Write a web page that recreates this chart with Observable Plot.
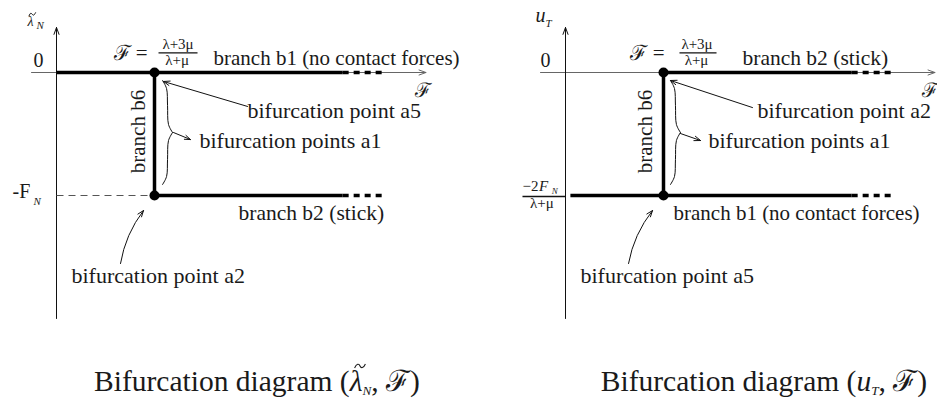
<!DOCTYPE html>
<html>
<head>
<meta charset="utf-8">
<script src="https://cdn.jsdelivr.net/npm/d3@7"></script>
<script src="https://cdn.jsdelivr.net/npm/@observablehq/plot@0.6"></script>
<style>
  body { margin: 0; background: #fff; }
  #wrap { position: relative; width: 937px; height: 403px; font-family: "Liberation Serif", serif; color: #1a1a1a; overflow: hidden; }
  #left { position: absolute; left: 0; top: 0; }
  #right { position: absolute; left: 509px; top: 0; }
  .cap { position: absolute; top: 365px; font-size: 29.5px; line-height: 32px; white-space: nowrap; transform: translateX(-50%); }
  .cap sub { font-size: 0.45em; font-style: italic; vertical-align: -0.3em; line-height: 0; }
  .cap .acc { position: relative; font-style: italic; }
  .cap .acc svg { position: absolute; left: 0.16em; top: -0.08em; width: 0.4em; height: 0.2em; overflow: visible; }
  svg text { font-family: "Liberation Serif", serif; }
</style>
</head>
<body>
<div id="wrap">
  <div id="left"></div>
  <div id="right"></div>
  <div class="cap" style="left:257px">Bifurcation diagram (<span class="acc">λ<svg viewBox="0 0 12 6"><path d="M0.5,5 C2.5,0.5 5,0.5 6,3 S9.5,5.5 11.5,1" fill="none" stroke="#1a1a1a" stroke-width="1.1"/></svg></span><sub>N</sub>, ℱ)</div>
  <div class="cap" style="left:764px">Bifurcation diagram (<i>u</i><sub>T</sub>, ℱ)</div>
</div>
<script>
// ================= Left diagram: (λ̃_N , ℱ) =================
const leftSolid = [
  {branch: "b1", F1: 0, F2: 2.92, v1: 0, v2: 0},
  {branch: "b2", F1: 1, F2: 2.92, v1: -1, v2: -1},
  {branch: "b6", F1: 1, F2: 1, v1: 0, v2: -1}
];
const leftDotted = [
  {branch: "b1", F1: 2.92, F2: 3.35, v1: 0, v2: 0},
  {branch: "b2", F1: 2.92, F2: 3.35, v1: -1, v2: -1}
];
const leftGuide = [{F1: 0, F2: 1, v1: -1, v2: -1}];
const leftPoints = [{name: "a5", F: 1, v: 0}, {name: "a2", F: 1, v: -1}];
const leftLabels = [
  {text: "branch b1 (no contact forces)", F: 1.602, v: 0.065, size: 21},
  {text: "bifurcation point a5", F: 1.949, v: -0.366, size: 22},
  {text: "bifurcation points a1", F: 1.459, v: -0.610, size: 22},
  {text: "branch b2 (stick)", F: 1.857, v: -1.203, size: 21.5},
  {text: "bifurcation point a2", F: 0.153, v: -1.715, size: 22}
];
const leftArrows = [
  {F1: 1.949, v1: -0.276, F2: 1.092, v2: -0.073},
  {F1: 1.194, v1: -0.488, F2: 1.367, v2: -0.545}
];
const leftCurvedArrows = [{F1: 0.653, v1: -1.553, F2: 0.888, v2: -1.122}];
const leftSymbols = [
  {text: "0", F: -0.235, v: 0.041, size: 20, italic: false, anchor: "start"},
  {text: "-F", F: -0.449, v: -1.024, size: 20, italic: false, anchor: "start"},
  {text: "N", F: -0.235, v: -1.081, size: 11, italic: true, anchor: "start"},
  {text: "λ", F: -0.296, v: 0.374, size: 14, italic: true, anchor: "start"},
  {text: "N", F: -0.204, v: 0.350, size: 11, italic: true, anchor: "start"},
  {text: "ℱ", F: 3.663, v: -0.203, size: 20, italic: false, anchor: "start"},
  {text: "ℱ =", F: 0.582, v: 0.098, size: 21, italic: false, anchor: "start"},
  {text: "λ+3μ", F: 1.240, v: 0.187, size: 15, italic: false, anchor: "middle"},
  {text: "λ+μ", F: 1.230, v: 0.065, size: 15, italic: false, anchor: "middle"}
];
// tilde accent over the λ of the axis label
const leftTilde = [
  {F: -0.280, v: 0.461}, {F: -0.260, v: 0.482}, {F: -0.237, v: 0.466}, {F: -0.214, v: 0.486}
];
const leftFractionBars = [{F1: 1.041, F2: 1.439, v: 0.159}];
const leftBrace = {F: 1.082, v: -0.065};
const leftB6 = {text: "branch b6", F: 0.837, v: -0.480};

// ================= Right diagram: (u_T , ℱ) =================
const rightSolid = [
  {branch: "b2", F1: 1, F2: 2.92, v1: 0, v2: 0},
  {branch: "b1", F1: 0.05, F2: 2.92, v1: -1, v2: -1},
  {branch: "b6", F1: 1, F2: 1, v1: 0, v2: -1}
];
const rightDotted = [
  {branch: "b2", F1: 2.92, F2: 3.35, v1: 0, v2: 0},
  {branch: "b1", F1: 2.92, F2: 3.35, v1: -1, v2: -1}
];
const rightGuide = [];
const rightPoints = [{name: "a2", F: 1, v: 0}, {name: "a5", F: 1, v: -1}];
const rightLabels = [
  {text: "branch b2 (stick)", F: 1.806, v: 0.065, size: 21.5},
  {text: "bifurcation point a2", F: 1.959, v: -0.366, size: 22},
  {text: "bifurcation points a1", F: 1.459, v: -0.610, size: 22},
  {text: "branch b1 (no contact forces)", F: 1.102, v: -1.203, size: 21},
  {text: "bifurcation point a5", F: 0.153, v: -1.715, size: 22}
];
const rightArrows = [
  {F1: 1.908, v1: -0.285, F2: 1.071, v2: -0.065},
  {F1: 1.173, v1: -0.496, F2: 1.378, v2: -0.553}
];
const rightCurvedArrows = [{F1: 0.643, v1: -1.553, F2: 0.888, v2: -1.122}];
const rightSymbols = [
  {text: "0", F: -0.255, v: 0.041, size: 20, italic: false, anchor: "start"},
  {text: "u", F: -0.306, v: 0.407, size: 20, italic: true, anchor: "start"},
  {text: "T", F: -0.204, v: 0.366, size: 11, italic: true, anchor: "start"},
  {text: "ℱ", F: 3.640, v: -0.203, size: 20, italic: false, anchor: "start"},
  {text: "ℱ =", F: 0.663, v: 0.098, size: 21, italic: false, anchor: "start"},
  {text: "λ+3μ", F: 1.342, v: 0.187, size: 15, italic: false, anchor: "middle"},
  {text: "λ+μ", F: 1.337, v: 0.065, size: 15, italic: false, anchor: "middle"},
  {text: "−2", F: -0.439, v: -0.967, size: 15, italic: false, anchor: "start"},
  {text: "F", F: -0.270, v: -0.967, size: 15, italic: true, anchor: "start"},
  {text: "N", F: -0.140, v: -0.984, size: 9, italic: true, anchor: "start"},
  {text: "λ+μ", F: -0.240, v: -1.098, size: 15, italic: false, anchor: "middle"}
];
const rightTilde = [];
const rightFractionBars = [{F1: 1.163, F2: 1.541, v: 0.159}, {F1: -0.439, F2: 0, v: -1.008}];
const rightBrace = {F: 1.071, v: -0.065};
const rightB6 = {text: "branch b6", F: 0.816, v: -0.480};

// shared axes and brace outline (offsets from the brace top)
const xAxisSpan = [-0.255, 3.77];
const yAxisSpan = [-2.0, 0.366];
const braceDF = [0, 0.041, 0.051, 0.061, 0.102, 0.061, 0.051, 0.041, 0];
const braceDV = [0, -0.065, -0.203, -0.358, -0.423, -0.488, -0.642, -0.781, -0.846];

const FONT = "Liberation Serif";

function diagram(width, solid, dotted, guide, points, labels, arrows, curved, symbols, tilde, bars, brace, b6) {
  const braceData = braceDF.map((d, i) => ({F: brace.F + d, v: brace.v + braceDV[i], half: "upper"}))
    .flatMap((p, i) => i === 4 ? [p, {...p, half: "lower"}] : [{...p, half: i < 4 ? "upper" : "lower"}]);
  const ink = "#111";
  const txt = {fontFamily: FONT, fill: "#1a1a1a", lineAnchor: "bottom"};
  return Plot.plot({
    width, height: 340,
    margin: 0,
    x: {domain: [0, 1], range: [56, 154], axis: null},
    y: {domain: [0, -1], range: [72, 195], axis: null},
    style: {fontFamily: FONT, color: "#1a1a1a", background: "transparent", overflow: "visible"},
    marks: [
      // axes
      Plot.arrow([{x1: xAxisSpan[0], x2: xAxisSpan[1]}], {x1: "x1", x2: "x2", y1: () => 0, y2: () => 0, stroke: "#666", strokeWidth: 1, headLength: 11, headAngle: 40}),
      Plot.arrow([{y1: yAxisSpan[0], y2: yAxisSpan[1]}], {x1: () => 0, x2: () => 0, y1: "y1", y2: "y2", stroke: ink, strokeWidth: 1, headLength: 11, headAngle: 40}),
      // dashed guide
      Plot.link(guide, {x1: "F1", x2: "F2", y1: "v1", y2: "v2", stroke: "#555", strokeWidth: 1, strokeDasharray: "7,5"}),
      // fraction bars
      Plot.link(bars, {x1: "F1", x2: "F2", y1: "v", y2: "v", stroke: ink, strokeWidth: 1.3}),
      // branches
      Plot.link(solid, {x1: "F1", x2: "F2", y1: "v1", y2: "v2", stroke: "#000", strokeWidth: 3.5}),
      Plot.link(dotted, {x1: "F1", x2: "F2", y1: "v1", y2: "v2", stroke: "#000", strokeWidth: 3.5, strokeDasharray: "6,5"}),
      Plot.dot(points, {x: "F", y: "v", r: 5, fill: "#000", stroke: null}),
      // brace + annotation arrows
      Plot.line(braceData, {x: "F", y: "v", z: "half", curve: "catmull-rom", stroke: ink, strokeWidth: 1}),
      Plot.arrow(arrows, {x1: "F1", y1: "v1", x2: "F2", y2: "v2", stroke: ink, strokeWidth: 1, headLength: 10, headAngle: 40}),
      Plot.arrow(curved, {x1: "F1", y1: "v1", x2: "F2", y2: "v2", bend: 14, stroke: ink, strokeWidth: 1, headLength: 10, headAngle: 40}),
      // tilde accent
      Plot.line(tilde, {x: "F", y: "v", curve: "natural", stroke: ink, strokeWidth: 1}),
      // texts
      Plot.text(labels, {...txt, x: "F", y: "v", text: "text", textAnchor: "start", fontSize: "size"}),
      Plot.text(symbols.filter(d => !d.italic && d.anchor === "start"), {...txt, x: "F", y: "v", text: "text", textAnchor: "start", fontSize: "size"}),
      Plot.text(symbols.filter(d => !d.italic && d.anchor === "middle"), {...txt, x: "F", y: "v", text: "text", textAnchor: "middle", fontSize: "size"}),
      Plot.text(symbols.filter(d => d.italic), {...txt, x: "F", y: "v", text: "text", fontSize: "size", fontStyle: "italic", textAnchor: "start"}),
      Plot.text([b6], {...txt, x: "F", y: "v", text: "text", rotate: -90, textAnchor: "middle", lineAnchor: "middle", fontSize: 21})
    ]
  });
}

document.getElementById("left").append(
  diagram(509, leftSolid, leftDotted, leftGuide, leftPoints, leftLabels, leftArrows, leftCurvedArrows, leftSymbols, leftTilde, leftFractionBars, leftBrace, leftB6)
);
document.getElementById("right").append(
  diagram(428, rightSolid, rightDotted, rightGuide, rightPoints, rightLabels, rightArrows, rightCurvedArrows, rightSymbols, rightTilde, rightFractionBars, rightBrace, rightB6)
);
</script>
</body>
</html>
